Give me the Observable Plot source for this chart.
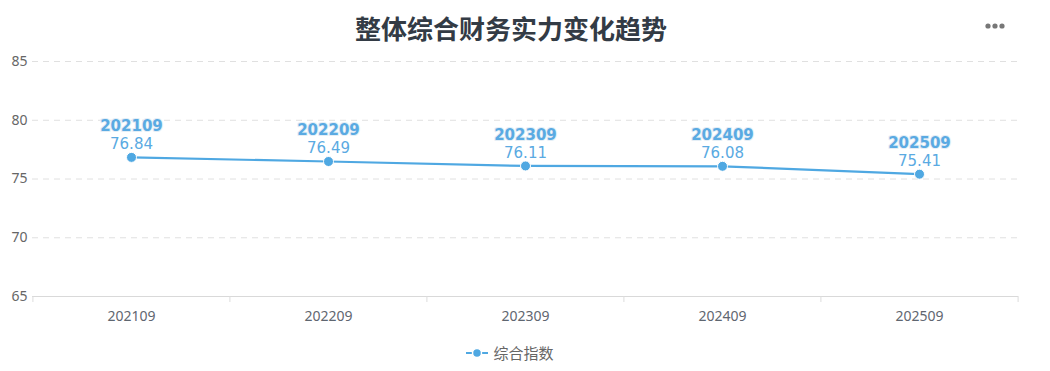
<!DOCTYPE html>
<html>
<head>
<meta charset="utf-8">
<script src="https://cdn.jsdelivr.net/npm/d3@7"></script>
<script src="https://cdn.jsdelivr.net/npm/@observablehq/plot@0.6"></script>
<style>
  body { margin: 0; background: #fff; width: 1050px; height: 371px; overflow: hidden; position: relative; font-family: "Noto Sans", "Noto Sans CJK SC", sans-serif; }
  #title { height: 49px; line-height: 56px; text-align: center; font-size: 26px; font-weight: bold; color: #333b45; font-family: "Noto Sans CJK SC", sans-serif; padding-right: 28px; }
  #menu { position: absolute; left: 985px; top: 22px; }
  #legend { height: 26px; line-height: 26px; text-align: center; font-size: 15px; color: #666; font-family: "Noto Sans CJK SC", sans-serif; display: flex; justify-content: center; align-items: center; padding-right: 30px; }
  #legend svg { margin-right: 5px; }
</style>
</head>
<body>
<div id="title">整体综合财务实力变化趋势</div>
<svg id="menu" width="20" height="8"><circle cx="3" cy="4" r="2.6" fill="#777"/><circle cx="10" cy="4" r="2.6" fill="#777"/><circle cx="17" cy="4" r="2.6" fill="#777"/></svg>
<div id="chart"></div>
<div id="legend"><svg width="22" height="12"><line x1="0" y1="6" x2="22" y2="6" stroke="#4fa8e2" stroke-width="2"/><circle cx="11" cy="6" r="4.5" fill="#4fa8e2" stroke="white" stroke-width="1.5"/></svg><span>综合指数</span></div>
<script>
const periods = ["202109", "202209", "202309", "202409", "202509"];
const values = [76.84, 76.49, 76.11, 76.08, 75.41];
const yTicks = [65, 70, 75, 80, 85];
const seriesName = "综合指数";

const data = periods.map((p, i) => ({period: p, value: values[i]}));
const color = "#4fa8e2";
const labelColor = "#5aaae2";
const width = 1050, mL = 32, mR = 32;
const step = (width - mL - mR) / periods.length;

const chart = Plot.plot({
  width: width,
  height: 291,
  marginLeft: mL,
  marginRight: mR,
  marginTop: 12,
  marginBottom: 44,
  style: {fontFamily: "'Noto Sans', 'Noto Sans CJK SC', sans-serif", background: "transparent", overflow: "visible"},
  x: {type: "point", domain: periods, padding: 0.5, label: null},
  y: {domain: [65, 85], ticks: yTicks, label: null},
  marks: [
    Plot.ruleY(yTicks.filter(t => t > 65), {stroke: "#e0e0e0", strokeDasharray: "6,5", strokeWidth: 1}),
    Plot.ruleY([65], {stroke: "#d9d9d9", strokeWidth: 1.2}),
    Plot.ruleX(periods, {x: d => d, y1: 65, y2: 65, dx: -step / 2, insetBottom: -6, stroke: "#dcdcdc"}),
    Plot.ruleX([periods[periods.length - 1]], {x: d => d, y1: 65, y2: 65, dx: step / 2, insetBottom: -6, stroke: "#dcdcdc"}),
    Plot.axisY({ticks: yTicks, tickSize: 0, tickPadding: 5, fontSize: 14, fill: "#666", stroke: null}),
    Plot.axisX({tickSize: 0, tickPadding: 15, fontSize: 14, fill: "#5f6670"}),
    Plot.line(data, {x: "period", y: "value", stroke: color, strokeWidth: 2.2}),
    Plot.dot(data, {x: "period", y: "value", r: 5, fill: color, stroke: "white", strokeWidth: 1}),
    Plot.text(data, {x: "period", y: "value", text: d => d.value.toFixed(2), dy: -13, fontSize: 15, fill: labelColor, fontFamily: "DejaVu Sans", stroke: "white", strokeWidth: 2}),
    Plot.text(data, {x: "period", y: "value", text: "period", dy: -31, fontSize: 15, fontWeight: "bold", fill: labelColor, fontFamily: "DejaVu Sans", stroke: "#e4eef6", strokeWidth: 2})
  ]
});
document.getElementById("chart").appendChild(chart);
</script>
</body>
</html>
